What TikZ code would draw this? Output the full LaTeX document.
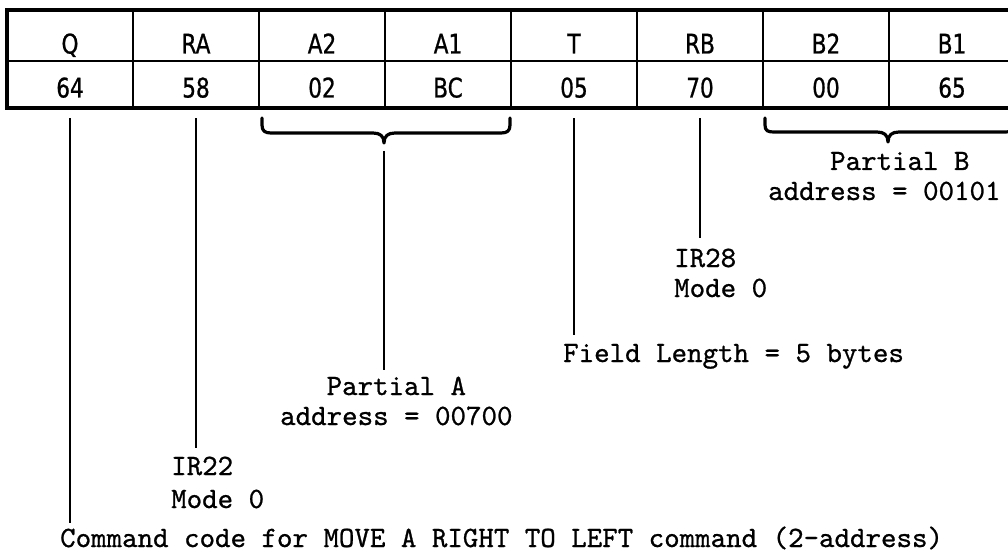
\documentclass[tikz,border=0pt]{standalone}
\usepackage{fontspec}
\newfontfamily\cellfont{DejaVu Sans}[FakeStretch=0.8, FakeBold=0.8]
\newfontfamily\typewriter{lmmono10-regular}[Extension=.otf, FakeBold=0.8]
\begin{document}
\begin{tikzpicture}[x=1pt,y=-1pt,
  cell/.style={inner sep=0pt, minimum width=126pt,
    font=\cellfont\fontsize{27}{27}\selectfont},
  headcell/.style={cell, minimum height=51pt, text height=36pt, text depth=0pt},
  valcell/.style={cell, minimum height=47pt, text height=26pt, text depth=0pt},
  frame/.style={line width=4pt, line join=miter},
  rule/.style={line width=1.8pt},
  lead/.style={line width=2.2pt},
  bracepath/.style={line width=3.2pt, line join=round, line cap=round},
  ann/.style={inner sep=0pt, anchor=base west, text height=18pt,
    font=\typewriter\fontsize{29.5}{29.5}\selectfont}]

\fill[white] (0,0) rectangle (1008,553);
\useasboundingbox (0,0) rectangle (1008,553);

% instruction fields: names and hexadecimal contents
\foreach \i/\h/\v in {1/Q/64, 2/RA/58, 3/A2/02, 4/A1/BC, 5/T/05, 6/RB/70, 7/B2/00, 8/B1/65}{
  \node[headcell] (h\i) at ({70+126*(\i-1)},35.5) {\h};
  \node[valcell]  (v\i) at ({70+126*(\i-1)},84.5) {\v};
}

% grid
\draw[rule] (h1.south west) -- (h8.south east);
\foreach \i in {1,...,7}{
  \draw[rule] (h\i.north east) -- (v\i.south east);
}
\draw[frame] (h8.north east) -- (h1.north west) -- (v1.south west) -- (v8.south east);

% braces under the A and B address bytes
\coordinate (ta) at (384,143);
\coordinate (tb) at (888,142);
\draw[bracepath] (262,118) -- (262,125) .. controls (262,131) and (265,133) .. (271,133)
  -- (373,133) .. controls (380,133) and (384,136) .. (ta)
  .. controls (384,136) and (388,133) .. (395,133)
  -- (501,133) .. controls (507,133) and (510,131) .. (510,125) -- (510,118);
\draw[bracepath] (765,118) -- (765,125) .. controls (765,131) and (768,132) .. (774,132)
  -- (877,132) .. controls (884,132) and (888,135) .. (tb)
  .. controls (888,135) and (892,132) .. (899,132)
  -- (1005,132) .. controls (1011,132) and (1014,131) .. (1014,125) -- (1014,118);

% annotations
\node[ann] (pb1) at (768,170) {\phantom{addr}Partial B};
\node[ann] (pb2) at (768,200) {address = 00101};
\node[ann] (ir28) at (674,267) {IR28};
\node[ann] (m28) at (674,297) {Mode 0};
\node[ann] (fl) at (563,362) {Field Length = 5 bytes};
\node[ann] (pa1) at (280,395) {\phantom{add}Partial A};
\node[ann] (pa2) at (280,425) {address = 00700};
\node[ann] (ir22) at (171,475) {IR22};
\node[ann] (m22) at (171,508) {Mode 0};
\node[ann] (cmd) at (60,547) {Command code for MOVE A RIGHT TO LEFT command (2-address)};

% leader lines
\draw[lead, shorten >=6pt]  ([yshift=-10pt]v1.south) -- (v1.south |- cmd.north);
\draw[lead, shorten >=9pt]  ([yshift=-10pt]v2.south) -- (v2.south |- ir22.north);
\draw[lead, shorten >=7pt]  ([yshift=-8pt]ta) -- (ta |- pa1.north);
\draw[lead, shorten >=9pt]  ([yshift=-10pt]v5.south) -- (v5.south |- fl.north);
\draw[lead, shorten >=11pt] ([yshift=-10pt]v6.south) -- (v6.south |- ir28.north);
\end{tikzpicture}
\end{document}
